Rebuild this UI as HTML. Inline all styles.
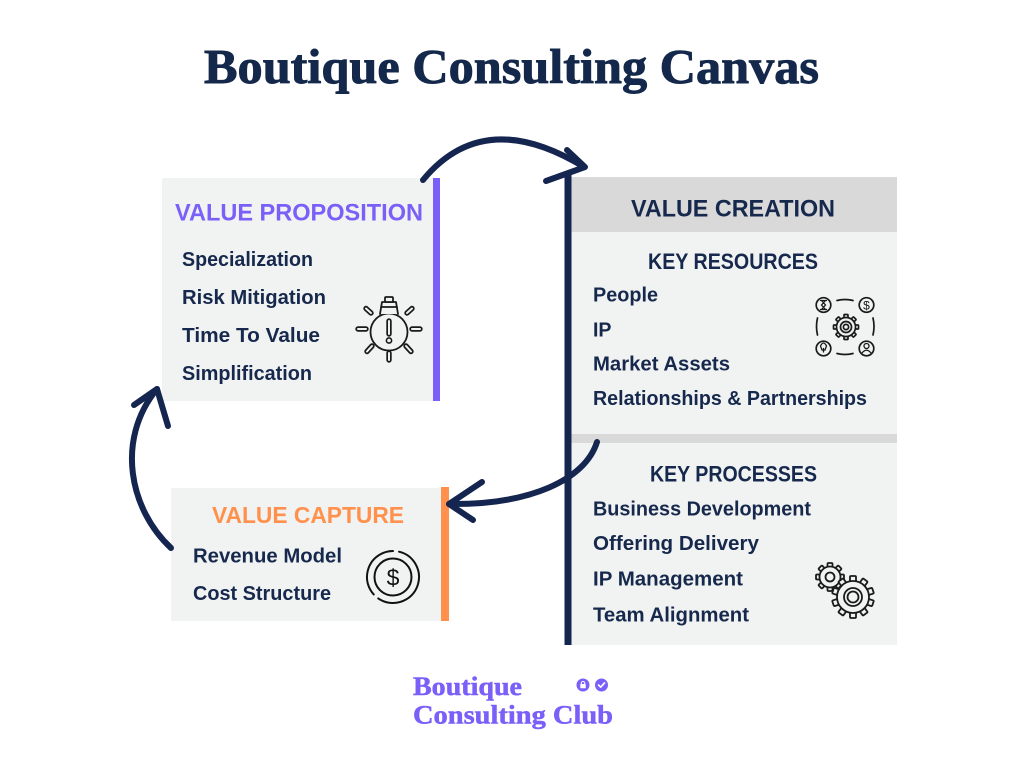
<!DOCTYPE html>
<html>
<head>
<meta charset="utf-8">
<style>
  html, body { margin:0; padding:0; background:#ffffff; }
  svg { display:block; }
  .t { font-family:"Liberation Sans", Arial, sans-serif; font-weight:bold; fill:#16294d; }
  .serif { font-family:"Liberation Serif", "Times New Roman", serif; font-weight:bold; }
</style>
</head>
<body>
<svg width="1024" height="768" viewBox="0 0 1024 768" xmlns="http://www.w3.org/2000/svg">
  <rect x="0" y="0" width="1024" height="768" fill="#ffffff"/>

  <!-- Title -->
  <text class="serif" x="204" y="83" font-size="49" fill="#14284b" stroke="#14284b" stroke-width="0.9" textLength="615" lengthAdjust="spacingAndGlyphs">Boutique Consulting Canvas</text>

  <!-- VALUE PROPOSITION box -->
  <rect x="162" y="178" width="271" height="223" fill="#f1f2f2"/>
  <rect x="433" y="178" width="7" height="223" fill="#7a5ff8"/>
  <text class="t" x="175" y="220.5" font-size="24" style="fill:#7a5ff8" textLength="248" lengthAdjust="spacingAndGlyphs">VALUE PROPOSITION</text>
  <text class="t" x="182" y="266" font-size="20" textLength="131" lengthAdjust="spacingAndGlyphs">Specialization</text>
  <text class="t" x="182" y="304" font-size="20" textLength="144" lengthAdjust="spacingAndGlyphs">Risk Mitigation</text>
  <text class="t" x="182" y="342" font-size="20" textLength="138" lengthAdjust="spacingAndGlyphs">Time To Value</text>
  <text class="t" x="182" y="380" font-size="20" textLength="130" lengthAdjust="spacingAndGlyphs">Simplification</text>

  <!-- lightbulb icon -->
  <g fill="none" stroke="#1a1a1a" stroke-width="1.8" stroke-linecap="round" stroke-linejoin="round">
    <circle cx="389" cy="332" r="18.5" fill="#f1f2f2"/>
    <path d="M380 314 L382 302 L396 302 L398 314" fill="#f1f2f2"/>
    <rect x="385" y="297" width="8" height="5" rx="1" fill="#f1f2f2"/>
    <line x1="381" y1="307" x2="397" y2="307"/>
  </g>
  <g stroke-linecap="round">
    <g stroke="#1a1a1a" stroke-width="5.4">
      <line x1="358" y1="329" x2="366" y2="329"/>
      <line x1="412" y1="329" x2="420" y2="329"/>
      <line x1="389" y1="353" x2="389" y2="360"/>
      <line x1="366" y1="308.5" x2="371" y2="313"/>
      <line x1="412" y1="308.5" x2="407" y2="313"/>
      <line x1="367" y1="351.5" x2="372" y2="346"/>
      <line x1="411" y1="351.5" x2="406" y2="346"/>
      <line x1="389" y1="321" x2="389" y2="334"/>
    </g>
    <g stroke="#f1f2f2" stroke-width="2">
      <line x1="358" y1="329" x2="366" y2="329"/>
      <line x1="412" y1="329" x2="420" y2="329"/>
      <line x1="389" y1="353" x2="389" y2="360"/>
      <line x1="366" y1="308.5" x2="371" y2="313"/>
      <line x1="412" y1="308.5" x2="407" y2="313"/>
      <line x1="367" y1="351.5" x2="372" y2="346"/>
      <line x1="411" y1="351.5" x2="406" y2="346"/>
      <line x1="389" y1="321" x2="389" y2="334"/>
    </g>
  </g>
  <circle cx="389" cy="340.5" r="2.6" fill="none" stroke="#1a1a1a" stroke-width="1.6"/>

  <!-- VALUE CREATION panel -->
  <rect x="571" y="177" width="326" height="55" fill="#d9d9d9"/>
  <rect x="571" y="232" width="326" height="202" fill="#f1f2f2"/>
  <rect x="571" y="434" width="326" height="9" fill="#d9d9d9"/>
  <rect x="571" y="443" width="326" height="202" fill="#f1f2f2"/>
  <text class="t" x="631" y="216.5" font-size="24" textLength="204" lengthAdjust="spacingAndGlyphs">VALUE CREATION</text>
  <text class="t" x="648" y="269" font-size="22" textLength="170" lengthAdjust="spacingAndGlyphs">KEY RESOURCES</text>
  <text class="t" x="593" y="301.5" font-size="20" textLength="65" lengthAdjust="spacingAndGlyphs">People</text>
  <text class="t" x="593" y="336.5" font-size="20" textLength="18.5" lengthAdjust="spacingAndGlyphs">IP</text>
  <text class="t" x="593" y="370.5" font-size="20" textLength="137" lengthAdjust="spacingAndGlyphs">Market Assets</text>
  <text class="t" x="593" y="405" font-size="20" textLength="274" lengthAdjust="spacingAndGlyphs">Relationships &amp; Partnerships</text>

  <text class="t" x="650" y="481.5" font-size="22" textLength="167" lengthAdjust="spacingAndGlyphs">KEY PROCESSES</text>
  <text class="t" x="593" y="515.5" font-size="20" textLength="218" lengthAdjust="spacingAndGlyphs">Business Development</text>
  <text class="t" x="593" y="550" font-size="20" textLength="166" lengthAdjust="spacingAndGlyphs">Offering Delivery</text>
  <text class="t" x="593" y="585.5" font-size="20" textLength="150" lengthAdjust="spacingAndGlyphs">IP Management</text>
  <text class="t" x="593" y="621.5" font-size="20" textLength="156" lengthAdjust="spacingAndGlyphs">Team Alignment</text>

  <!-- resources icon -->
  <g fill="#f1f2f2" stroke="#1a1a1a" stroke-width="1.7" stroke-linecap="round">
    <circle cx="823.5" cy="305" r="7.3"/>
    <circle cx="866.5" cy="305" r="7.3"/>
    <circle cx="823.5" cy="348.5" r="7.3"/>
    <circle cx="866.5" cy="348.5" r="7.3"/>
    <path d="M837 300.5 Q845 298.5 853 300.5" fill="none"/>
    <path d="M837 353.5 Q845 355.5 853 353.5" fill="none"/>
    <path d="M817.5 318 Q815.5 326.5 817.5 335" fill="none"/>
    <path d="M873 318 Q875 326.5 873 335" fill="none"/>
    <g>
      <rect x="844" y="314.5" width="4" height="5" rx="0.8" transform="rotate(0 846 327)"/>
      <rect x="844" y="314.5" width="4" height="5" rx="0.8" transform="rotate(45 846 327)"/>
      <rect x="844" y="314.5" width="4" height="5" rx="0.8" transform="rotate(90 846 327)"/>
      <rect x="844" y="314.5" width="4" height="5" rx="0.8" transform="rotate(135 846 327)"/>
      <rect x="844" y="314.5" width="4" height="5" rx="0.8" transform="rotate(180 846 327)"/>
      <rect x="844" y="314.5" width="4" height="5" rx="0.8" transform="rotate(225 846 327)"/>
      <rect x="844" y="314.5" width="4" height="5" rx="0.8" transform="rotate(270 846 327)"/>
      <rect x="844" y="314.5" width="4" height="5" rx="0.8" transform="rotate(315 846 327)"/>
      <circle cx="846" cy="327" r="9.5"/>
      <circle cx="846" cy="327" r="5.5"/>
      <circle cx="846" cy="327" r="2.6"/>
    </g>
    <path d="M820.5 300.5 L826.5 300.5 M820.5 309.5 L826.5 309.5 M821.5 300.5 L825.5 305 L821.5 309.5 M825.5 300.5 L821.5 305 L825.5 309.5" fill="none" stroke-width="1.3"/>
    <path d="M823.5 352 L823.5 348.5 M820.5 346 Q823.5 340 826.5 346 L825 350 L822 350 Z" fill="none" stroke-width="1.3"/>
    <circle cx="866.5" cy="346" r="2.5" stroke-width="1.3"/>
    <path d="M862 353 Q866.5 347.5 871 353" fill="none" stroke-width="1.3"/>
  </g>
  <text x="866.5" y="309.5" font-family="Liberation Sans, sans-serif" font-size="12" text-anchor="middle" fill="#1a1a1a">$</text>

  <!-- gears icon -->
  <g fill="#f1f2f2" stroke="#1a1a1a" stroke-width="1.8" stroke-linejoin="round">
    <g>
      <rect x="827.5" y="563" width="5" height="6.5" rx="1" transform="rotate(0 830 577)"/>
      <rect x="827.5" y="563" width="5" height="6.5" rx="1" transform="rotate(45 830 577)"/>
      <rect x="827.5" y="563" width="5" height="6.5" rx="1" transform="rotate(90 830 577)"/>
      <rect x="827.5" y="563" width="5" height="6.5" rx="1" transform="rotate(135 830 577)"/>
      <rect x="827.5" y="563" width="5" height="6.5" rx="1" transform="rotate(180 830 577)"/>
      <rect x="827.5" y="563" width="5" height="6.5" rx="1" transform="rotate(225 830 577)"/>
      <rect x="827.5" y="563" width="5" height="6.5" rx="1" transform="rotate(270 830 577)"/>
      <rect x="827.5" y="563" width="5" height="6.5" rx="1" transform="rotate(315 830 577)"/>
      <circle cx="830" cy="577" r="10.5"/>
      <circle cx="830" cy="577" r="4.5"/>
    </g>
    <g>
      <rect x="850" y="576" width="6" height="7.5" rx="1" transform="rotate(0 853 597)"/>
      <rect x="850" y="576" width="6" height="7.5" rx="1" transform="rotate(36 853 597)"/>
      <rect x="850" y="576" width="6" height="7.5" rx="1" transform="rotate(72 853 597)"/>
      <rect x="850" y="576" width="6" height="7.5" rx="1" transform="rotate(108 853 597)"/>
      <rect x="850" y="576" width="6" height="7.5" rx="1" transform="rotate(144 853 597)"/>
      <rect x="850" y="576" width="6" height="7.5" rx="1" transform="rotate(180 853 597)"/>
      <rect x="850" y="576" width="6" height="7.5" rx="1" transform="rotate(216 853 597)"/>
      <rect x="850" y="576" width="6" height="7.5" rx="1" transform="rotate(252 853 597)"/>
      <rect x="850" y="576" width="6" height="7.5" rx="1" transform="rotate(288 853 597)"/>
      <rect x="850" y="576" width="6" height="7.5" rx="1" transform="rotate(324 853 597)"/>
      <circle cx="853" cy="597" r="16"/>
      <circle cx="853" cy="597" r="9"/>
      <circle cx="853" cy="597" r="5.5"/>
    </g>
  </g>

  <!-- VALUE CAPTURE box -->
  <rect x="171" y="488" width="270" height="133" fill="#f1f2f2"/>
  <rect x="441" y="487" width="8" height="134" fill="#ff914d"/>
  <text class="t" x="212" y="523" font-size="23" style="fill:#ff914d" textLength="192" lengthAdjust="spacingAndGlyphs">VALUE CAPTURE</text>
  <text class="t" x="193" y="562.5" font-size="20" textLength="149" lengthAdjust="spacingAndGlyphs">Revenue Model</text>
  <text class="t" x="193" y="600" font-size="20" textLength="138" lengthAdjust="spacingAndGlyphs">Cost Structure</text>

  <!-- dollar icon -->
  <g fill="none" stroke="#111" stroke-width="2" stroke-linecap="round">
    <circle cx="393" cy="577" r="26" stroke-dasharray="70 6 60 6 21" transform="rotate(-30 393 577)"/>
    <circle cx="393" cy="577" r="18.5"/>
  </g>
  <text x="393" y="585.5" font-family="Liberation Sans, sans-serif" font-size="23" text-anchor="middle" fill="#111">$</text>

  <!-- navy vertical line -->
  <line x1="568" y1="173" x2="568" y2="645" stroke="#14254f" stroke-width="7"/>

  <!-- arrows -->
  <g fill="none" stroke="#14254f" stroke-width="6" stroke-linecap="round" stroke-linejoin="round">
    <path d="M423 180 Q484 106 584 167"/>
    <path d="M567 150 L585 167 L546 181"/>

    <path d="M597 442 C585 480 530 505 449 504"/>
    <path d="M482 482 L449 504 L473 520"/>

    <path d="M171 548 C130 510 115 440 157 389"/>
    <path d="M134 405 L157 389 L168 426"/>
  </g>

  <!-- logo -->
  <text class="serif" x="413" y="695" font-size="26" fill="#7a5ff8" stroke="#7a5ff8" stroke-width="0.5" textLength="109" lengthAdjust="spacingAndGlyphs">Boutique</text>
  <text class="serif" x="413" y="723.5" font-size="26" fill="#7a5ff8" stroke="#7a5ff8" stroke-width="0.5" textLength="200" lengthAdjust="spacingAndGlyphs">Consulting Club</text>
  <circle cx="583" cy="685" r="6.5" fill="#7a5ff8"/>
  <rect x="580.3" y="684" width="5.4" height="4.2" rx="0.6" fill="#ffffff"/>
  <path d="M581.3 684 L581.3 682.5 Q583 680.2 584.7 682.5 L584.7 684" fill="none" stroke="#ffffff" stroke-width="1"/>
  <circle cx="601.5" cy="685" r="6.5" fill="#7a5ff8"/>
  <path d="M598.5 685 L600.7 687.2 L604.6 682.8" fill="none" stroke="#ffffff" stroke-width="1.6" stroke-linecap="round" stroke-linejoin="round"/>
</svg>
</body>
</html>
